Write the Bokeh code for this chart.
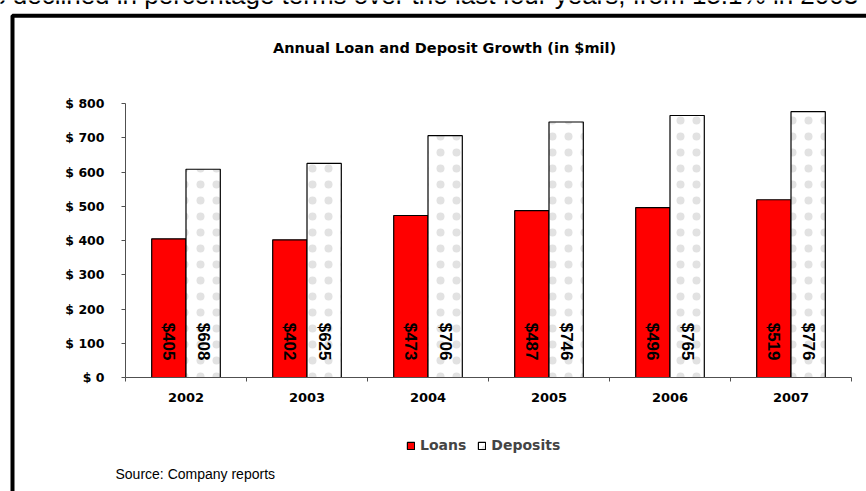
import numpy as np
from bokeh.plotting import figure
from bokeh.models import (ColumnDataSource, Range1d, FixedTicker, Label,
                          BoxAnnotation, Legend, LegendItem)
from bokeh.core.properties import value
from bokeh.embed import file_html
from bokeh.resources import INLINE

# ---------------- data ----------------
years = ["2002", "2003", "2004", "2005", "2006", "2007"]
loans = [405, 402, 473, 487, 496, 519]
deposits = [608, 625, 706, 746, 765, 776]
y_ticks = [0, 100, 200, 300, 400, 500, 600, 700, 800]
y_tick_labels = ["$ 0", "$ 100", "$ 200", "$ 300", "$ 400", "$ 500", "$ 600", "$ 700", "$ 800"]
series_names = ["Loans", "Deposits"]
title_text = "Annual Loan and Deposit Growth (in $mil)"
source_text = "Source: Company reports"
intro_text = "s declined in percentage terms over the last four years, from 15.1% in 2003 to"

# ---------------- layout / styles ----------------
W, H = 866, 491
PLOT_LEFT, PLOT_RIGHT, PLOT_TOP, PLOT_BOTTOM = 125, 851, 103, 377
BAR_W = 0.2835
AXIS_COLOR = "#505050"
BOLD_FONT = "DejaVu Sans"
ARIAL = "Liberation Sans"

n = len(years)
px_x = (PLOT_RIGHT - PLOT_LEFT) / n
X0, X1 = -PLOT_LEFT / px_x, n + (W - PLOT_RIGHT) / px_x
ymax = y_ticks[-1]
px_y = (PLOT_BOTTOM - PLOT_TOP) / ymax
Y0, Y1 = -(H - PLOT_BOTTOM) / px_y, ymax + PLOT_TOP / px_y

idx = np.arange(n)
centers = idx + 0.5
bounds = np.arange(n + 1)

src_l = ColumnDataSource(dict(x=centers - BAR_W / 2, top=loans,
                              label=[f"${v}" for v in loans]))
src_d = ColumnDataSource(dict(x=centers + BAR_W / 2, top=deposits,
                              label=[f"${v}" for v in deposits]))

p = figure(width=W, height=H, x_range=Range1d(X0, X1), y_range=Range1d(Y0, Y1),
           output_backend="svg", toolbar_location=None, title=None,
           min_border=0, min_border_left=0, min_border_right=0,
           min_border_top=0, min_border_bottom=0)
p.outline_line_color = None
p.grid.visible = False
p.background_fill_color = "white"
p.border_fill_color = "white"

# x axis: labels at centres, tick marks at category boundaries
xa = p.xaxis[0]
xa.fixed_location = 0
xa.bounds = (0, n)
xa.ticker = FixedTicker(ticks=list(centers), minor_ticks=list(bounds))
xa.major_label_overrides = {float(c): y for c, y in zip(centers, years)}
xa.major_tick_line_color = None
xa.minor_tick_in = 0
xa.minor_tick_out = 4
xa.minor_tick_line_color = AXIS_COLOR
xa.axis_line_color = AXIS_COLOR
xa.major_label_text_font = BOLD_FONT
xa.major_label_text_font_style = "bold"
xa.major_label_text_font_size = "13px"
xa.major_label_text_color = "black"
xa.major_label_standoff = 9

ya = p.yaxis[0]
ya.fixed_location = 0
ya.bounds = (0, ymax)
ya.ticker = FixedTicker(ticks=y_ticks)
ya.major_label_overrides = {t: l for t, l in zip(y_ticks, y_tick_labels)}
ya.major_tick_in = 0
ya.major_tick_out = 4
ya.major_tick_line_color = AXIS_COLOR
ya.minor_tick_line_color = None
ya.axis_line_color = AXIS_COLOR
ya.major_label_text_font = BOLD_FONT
ya.major_label_text_font_style = "bold"
ya.major_label_text_font_size = "12.5px"
ya.major_label_text_color = "black"
ya.major_label_standoff = 17

r_l = p.vbar(x="x", top="top", bottom=0, width=BAR_W, source=src_l,
             fill_color="#FF0000", line_color="black", line_width=1.2)
r_d = p.vbar(x="x", top="top", bottom=0, width=BAR_W, source=src_d,
             fill_color="white", line_color="black", line_width=1.2,
             hatch_pattern="dot", hatch_color="#e2e2e2", hatch_scale=16,
             hatch_weight=0.5)

for s in (src_l, src_d):
    p.text(x="x", y=0, text="label", source=s, angle=-np.pi / 2,
           text_align="right", text_baseline="middle", y_offset=-17,
           text_font=value(ARIAL), text_font_style="bold",
           text_font_size="17px", text_color="black")

legend = Legend(items=[LegendItem(label=series_names[0], renderers=[r_l]),
                       LegendItem(label=series_names[1], renderers=[r_d])],
                orientation="horizontal", location=(406, H - 453),
                glyph_width=9, glyph_height=9, label_standoff=5, spacing=11,
                padding=0, margin=0, border_line_color=None,
                background_fill_alpha=0, label_height=13,
                label_text_font=BOLD_FONT, label_text_font_style="bold",
                label_text_font_size="14px")
p.add_layout(legend)

p.add_layout(Label(x=-8, y=H + 6, x_units="screen", y_units="screen",
                   text=intro_text, text_font=ARIAL, text_font_size="26px",
                   text_baseline="alphabetic", text_align="left",
                   text_color="black"))
p.add_layout(Label(x=444, y=H - 47.5, x_units="screen", y_units="screen",
                   text=title_text, text_font=BOLD_FONT, text_font_style="bold",
                   text_font_size="14.5px", text_baseline="alphabetic",
                   text_align="center", text_color="black"))
p.add_layout(Label(x=115, y=H - 473.5, x_units="screen", y_units="screen",
                   text=source_text, text_font=ARIAL, text_font_size="14px",
                   text_baseline="alphabetic", text_align="left",
                   text_color="black"))
p.add_layout(BoxAnnotation(left=12, right=W + 100, top=H - 15.3, bottom=-100,
                           left_units="screen", right_units="screen",
                           top_units="screen", bottom_units="screen",
                           fill_alpha=0, line_color="black", line_alpha=1.0,
                           line_dash="solid", line_width=4))

open("out.html", "w").write(file_html(p, INLINE))
